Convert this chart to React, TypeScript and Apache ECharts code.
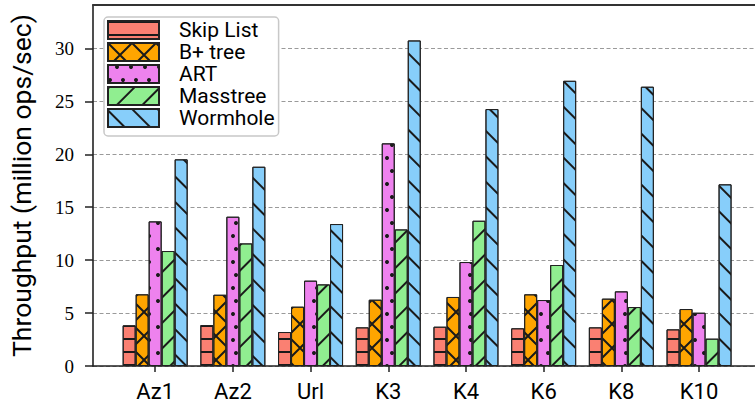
import React, { useEffect, useRef } from "react";
import * as echarts from "echarts";

const categories = ["Az1", "Az2", "Url", "K3", "K4", "K6", "K8", "K10"];
const seriesNames = ["Skip List", "B+ tree", "ART", "Masstree", "Wormhole"];
const skipList = [3.84, 3.87, 3.21, 3.65, 3.71, 3.56, 3.65, 3.46];
const bplusTree = [6.77, 6.73, 5.6, 6.26, 6.52, 6.77, 6.36, 5.38];
const art = [13.66, 14.1, 8.06, 21.03, 9.82, 6.23, 7.05, 5.03];
const masstree = [10.86, 11.58, 7.71, 12.9, 13.72, 9.54, 5.57, 2.58];
const wormhole = [19.52, 18.82, 13.41, 30.75, 24.27, 26.94, 26.38, 17.16];
const yTicks = [0, 5, 10, 15, 20, 25, 30];

const colors = ["#FA8072", "#FFA500", "#EE82EE", "#90EE90", "#87CEFA"];
const hatch = "#1a1a1a";

const decals: any[] = [
  { symbol: "rect", symbolSize: 1, dashArrayX: [1, 0], dashArrayY: [1.4, 11], rotation: 0, color: hatch },
  {
    symbol:
      "path://M0 0L0.9 0L15 14.1L15 15L14.1 15L0 0.9Z M15 0L15 0.9L0.9 15L0 15L0 14.1L14.1 0Z",
    symbolSize: 1,
    symbolKeepAspect: false,
    dashArrayX: [24, 0],
    dashArrayY: [24, 0],
    rotation: 0,
    color: hatch,
  },
  { symbol: "circle", symbolSize: 1, dashArrayX: [[4, 9], [0, 6.5, 4, 2.5]], dashArrayY: [4, 8.5], rotation: 0, color: hatch },
  { symbol: "rect", symbolSize: 1, dashArrayX: [1, 0], dashArrayY: [1.8, 15.5], rotation: -Math.PI / 4, color: hatch },
  { symbol: "rect", symbolSize: 1, dashArrayX: [1, 0], dashArrayY: [1.8, 15.5], rotation: Math.PI / 4, color: hatch },
];

const allValues = [skipList, bplusTree, art, masstree, wormhole];

export default function App() {
  const ref = useRef<HTMLDivElement>(null);
  useEffect(() => {
    if (!ref.current) return;
    const chart = echarts.init(ref.current, undefined, { renderer: "svg" });
    const catIdx = categories.map((_, i) => i);
    const option: any = {
      animation: false,
      backgroundColor: "#ffffff",
      grid: { left: 93, right: 0, top: 5, bottom: 41, containLabel: false },
      legend: {
        orient: "vertical",
        left: 104,
        top: 17,
        data: seriesNames,
        icon: "rect",
        itemWidth: 51,
        itemHeight: 18,
        itemGap: 0,
        padding: [2, 4, 7, 3],
        backgroundColor: "#ffffff",
        borderColor: "#c8c8c8",
        borderWidth: 1.5,
        borderRadius: 4,
        formatter: (name: string) => `{t|${name}}`,
        textStyle: {
          fontFamily: "Roboto",
          fontSize: 21,
          lineHeight: 22,
          color: "#000",
          rich: {
            t: {
              fontFamily: "Roboto",
              fontSize: 21,
              lineHeight: 22,
              color: "#000",
              padding: [0, 0, 0, 15],
            },
          },
        },
      },
      xAxis: [
        {
          type: "value",
          min: -0.8,
          max: 7.72,
          position: "bottom",
          axisLine: { show: true, onZero: false, lineStyle: { color: "#222", width: 1.6 } },
          axisTick: { show: true, customValues: catIdx, length: 6, lineStyle: { color: "#222", width: 1.5 } },
          axisLabel: {
            show: true,
            customValues: catIdx,
            formatter: (v: number) => categories[Math.round(v)] ?? "",
            fontFamily: "Roboto",
            fontSize: 22,
            color: "#000",
            margin: 14,
          },
          splitLine: { show: false },
        },
        {
          type: "value",
          min: -0.8,
          max: 7.72,
          position: "top",
          axisLine: { show: true, onZero: false, lineStyle: { color: "#333", width: 2 } },
          axisTick: { show: false },
          axisLabel: { show: false },
          splitLine: { show: false },
        },
      ],
      yAxis: {
        type: "value",
        min: 0,
        max: 34.1,
        interval: 5,
        name: "Throughput (million ops/sec)",
        nameLocation: "middle",
        nameGap: 58,
        nameTextStyle: { fontFamily: "Roboto", fontSize: 26.5, color: "#000" },
        axisLine: { show: true, onZero: false, lineStyle: { color: "#222", width: 1.6 } },
        axisTick: { show: true, customValues: yTicks, length: 8, lineStyle: { color: "#222", width: 1.5 } },
        axisLabel: {
          customValues: yTicks,
          fontFamily: "'Liberation Serif', 'DejaVu Serif', serif",
          fontSize: 19,
          color: "#000",
          margin: 19,
        },
        splitLine: { show: true, lineStyle: { color: "#9a9a9a", width: 1, type: [4, 2.5] } },
      },
      series: seriesNames.map((name, s) => ({
        name,
        type: "bar",
        xAxisIndex: 0,
        barWidth: 13,
        barGap: "0%",
        data: allValues[s].map((v, i) => [i, v]),
        itemStyle: {
          color: colors[s],
          borderColor: "#222",
          borderWidth: 1,
          decal: decals[s],
        },
      })),
    };
    chart.setOption(option);
    return () => chart.dispose();
  }, []);
  return (
    <div
      ref={ref}
      style={{ position: "absolute", left: 0, top: 0, width: 755, height: 407 }}
    />
  );
}
